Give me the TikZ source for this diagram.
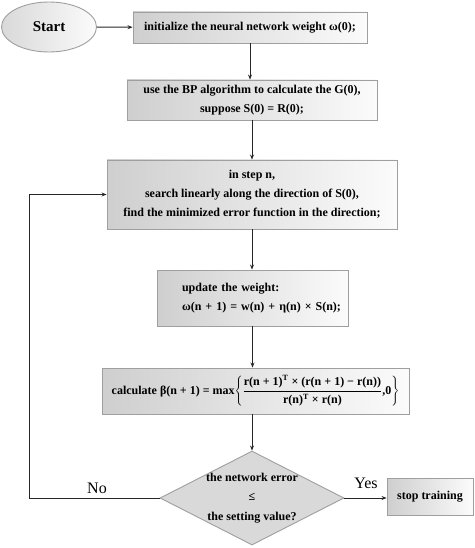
\documentclass[tikz,border=0pt]{standalone}
\usepackage{fontspec}
\setmainfont{Liberation Serif}
\usetikzlibrary{shapes.geometric,arrows.meta}
\begin{document}
\begin{tikzpicture}[x=1pt,y=-1pt,
  boxfill/.style={left color=gray!38,right color=gray!3},
  stepbox/.style={draw=gray!75,line width=0.9pt,boxfill,inner sep=0pt,
     font=\fontsize{12}{19}\bfseries\selectfont,align=center},
  startnode/.style={ellipse,draw=gray!75,line width=0.9pt,left color=gray!30,right color=gray!3,
     inner sep=0pt,font=\fontsize{15}{18}\bfseries\selectfont},
  decision/.style={diamond,draw=gray!75,line width=0.9pt,fill=gray!30,aspect=1.96,
     inner xsep=-8pt,inner ysep=0pt,font=\fontsize{12}{19.5}\bfseries\selectfont,align=center},
  arr/.style={draw=black!85,line width=1pt,-{Stealth[length=5pt,width=4pt]}},
  lbl/.style={font=\fontsize{16}{18}\selectfont}]
\useasboundingbox (0,0) rectangle (474,548);
\node[startnode,minimum width=95pt,minimum height=50pt] (start) at (49,27) {Start};
\node[stepbox,minimum width=234pt,minimum height=31pt] (b1) at (250,27.5)
  {initialize the neural network weight ω(0);};
\node[stepbox,minimum width=250pt,minimum height=40pt] (b2) at (252,100)
  {use the BP algorithm to calculate the G(0),\\ suppose S(0) = R(0);};
\node[stepbox,minimum width=290pt,minimum height=69pt] (b3) at (252,194.5)
  {in step n,\\ search linearly along the direction of S(0),\\ find the minimized error function in the direction;};
\node[stepbox,text width=181pt,inner xsep=5pt,minimum height=56pt,align=left] (b4) at (252.5,298)
  {\hspace*{20pt}update the weight:\\ \hspace*{20pt}ω(n + 1) = w(n) + η(n) × S(n);};
\node[stepbox,minimum width=307pt,minimum height=46pt] (b5) at (255.5,391)
  {calculate β(n + 1) = max$\mathversion{bold}\displaystyle\left\{\frac{\mbox{r(n + 1)\textsuperscript{T} × (r(n + 1) − r(n))}}{\mbox{r(n)\textsuperscript{T} × r(n)}}\mbox{,0}\right\}$};
\node[decision,minimum width=184pt,minimum height=94pt] (dia) at (252,498)
  {the network error\\ ≤\\ the setting value?};
\node[stepbox,minimum width=86pt,minimum height=37pt,font=\fontsize{12}{14}\bfseries\selectfont] (stop) at (430,497) {stop training};
\coordinate (loop) at (29,194.5);
\draw[arr] (start) -- (b1);
\draw[arr] (b1) -- (b1 |- b2.north);
\draw[arr] (b2) -- (b2 |- b3.north);
\draw[arr] (b3) -- (b3 |- b4.north);
\draw[arr] (b4) -- (b4 |- b5.north);
\draw[arr] (b5.south -| dia) -- (dia.north);
\draw[arr] (dia.east) -- (stop.west |- dia.east);
\draw[arr] (dia.west) -| (loop) -- (b3.west);
\node[lbl] (no) at (97,488) {No};
\node[lbl] (yes) at (366,483) {Yes};
\end{tikzpicture}
\end{document}
